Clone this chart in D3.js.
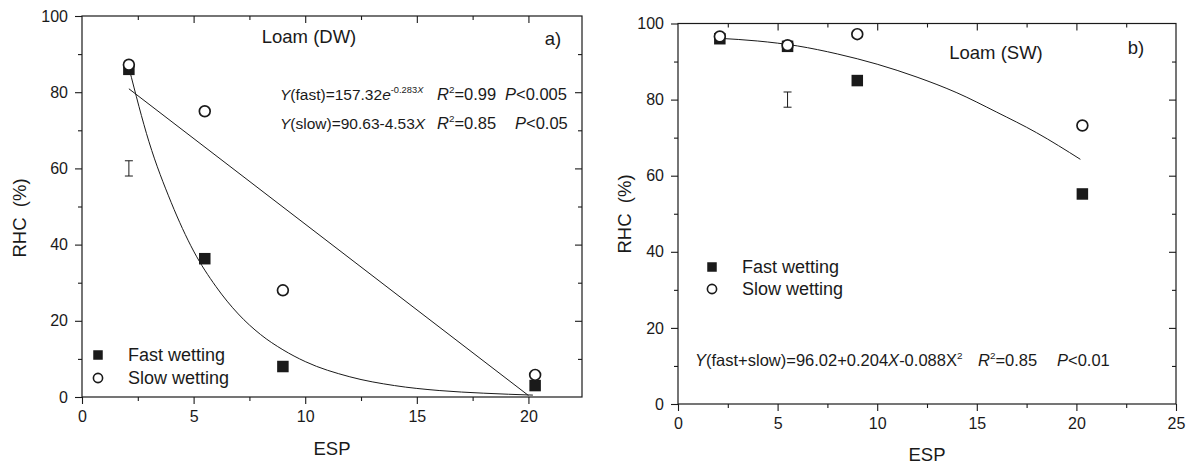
<!DOCTYPE html>
<html><head><meta charset="utf-8">
<script src="https://cdn.jsdelivr.net/npm/d3@7"></script>
<style>
html,body{margin:0;padding:0;background:#fff;}
svg{display:block;font-family:"Liberation Sans",Arial,Helvetica,sans-serif;}
</style></head><body>
<svg id="chart" width="1189" height="465"></svg>
<script>
// ---------- data ----------
const espLevels = [2.1, 5.5, 9.0, 20.3];
// Panel a) Loam (DW)
const dwFast = [86, 36.3, 8, 3];
const dwSlow = [87.2, 75, 28, 5.8];
const dwFastFitX = [2.1, 3, 4, 5, 6, 7, 8, 9, 10, 12, 14, 16, 18, 20.2];
const dwFastFitY = [86.5, 67, 51, 38.3, 29, 21.8, 16.4, 12.4, 9.3, 5.3, 3.0, 1.7, 1.0, 0.5];
const dwSlowFitX = [2.1, 20.0];
const dwSlowFitY = [80.9, 0.4];
const dwErrX = 2.1, dwErrLo = 58, dwErrHi = 62;
// Panel b) Loam (SW)
const swFast = [96, 94, 85, 55.2];
const swSlow = [96.6, 94.3, 97.2, 73.2];
const swFitX = [2.1, 4, 6, 8, 10, 12, 14, 16, 18, 20.2];
const swFitY = [96.1, 95.4, 94.1, 92.0, 89.3, 85.9, 81.8, 76.7, 71.3, 64.3];
const swErrX = 5.5, swErrLo = 78, swErrHi = 82;
// ticks
const yMajor = [0, 20, 40, 60, 80, 100];
const yMinor = [10, 30, 50, 70, 90];
const xMajorA = [0, 5, 10, 15, 20];
const xMinorA = [2.5, 7.5, 12.5, 17.5];
const xMajorB = [0, 5, 10, 15, 20, 25];
const xMinorB = [2.5, 7.5, 12.5, 17.5, 22.5];
const legendLabels = ["Fast wetting", "Slow wetting"];

const svg = d3.select("#chart");
const INK = "#1a1a1a";

function panel(cfg) {
  const x = d3.scaleLinear().domain(cfg.xDomain).range([cfg.left, cfg.right]);
  const y = d3.scaleLinear().domain([0, 100]).range([cfg.bottom, cfg.top]);
  const g = svg.append("g");

  const fmt = d3.format("d");
  const mk = (axis, scale, vals, size, f) => axis(scale).tickValues(vals).tickSize(size).tickSizeOuter(0).tickFormat(f || "");
  const addAxis = (a, tr) => {
    const s = g.append("g").attr("transform", tr).call(a);
    s.select(".domain").remove();
    s.selectAll("line").attr("stroke", INK).attr("stroke-width", 1.1);
    s.selectAll("text").attr("fill", INK).attr("font-size", 16).attr("font-family", "Liberation Sans, Arial, sans-serif");
    return s;
  };
  addAxis(mk(d3.axisBottom, x, cfg.xMajor, 7, fmt), `translate(0,${cfg.bottom})`).selectAll("text").attr("dy", "0.95em");
  addAxis(mk(d3.axisBottom, x, cfg.xMinor, 4), `translate(0,${cfg.bottom})`);
  addAxis(mk(d3.axisLeft, y, yMajor, 7, fmt), `translate(${cfg.left},0)`).selectAll("text").attr("dx", "-0.25em");
  addAxis(mk(d3.axisLeft, y, yMinor, 4), `translate(${cfg.left},0)`);
  addAxis(mk(d3.axisTop, x, cfg.xMajor.filter(v => v > cfg.xDomain[0] && v < cfg.xDomain[1]), -7), `translate(0,${cfg.top})`);
  addAxis(mk(d3.axisTop, x, cfg.xMinor, -4), `translate(0,${cfg.top})`);
  addAxis(mk(d3.axisRight, y, yMajor.filter(v => v > 0 && v < 100), -7), `translate(${cfg.right},0)`);
  addAxis(mk(d3.axisRight, y, yMinor, -4), `translate(${cfg.right},0)`);

  g.append("rect").attr("x", cfg.left).attr("y", cfg.top)
    .attr("width", cfg.right - cfg.left).attr("height", cfg.bottom - cfg.top)
    .attr("fill", "none").attr("stroke", INK).attr("stroke-width", 1.2);

  g.append("text").attr("x", (cfg.left + cfg.right) / 2 + cfg.xTitleDx).attr("y", cfg.xTitleY)
    .attr("text-anchor", "middle").attr("font-size", 18.5).attr("fill", INK).text("ESP");
  g.append("text").attr("transform", `translate(${cfg.yTitleX},${cfg.yTitleY}) rotate(-90)`)
    .attr("text-anchor", "middle").attr("font-size", 18.5).attr("fill", INK)
    .attr("xml:space", "preserve").style("white-space", "pre").text("RHC  (%)");

  const line = d3.line().x(d => x(d[0])).y(d => y(d[1])).curve(d3.curveMonotoneX);
  cfg.fits.forEach(f => {
    g.append("path").datum(d3.zip(f.xs, f.ys)).attr("d", line)
      .attr("fill", "none").attr("stroke", INK).attr("stroke-width", 1);
  });

  const ex = x(cfg.err[0]);
  g.append("path").attr("d",
    `M${ex - 4},${y(cfg.err[1])}H${ex + 4}M${ex},${y(cfg.err[1])}V${y(cfg.err[2])}M${ex - 4},${y(cfg.err[2])}H${ex + 4}`)
    .attr("stroke", INK).attr("stroke-width", 1).attr("fill", "none");

  const fast = d3.zip(espLevels, cfg.fast), slow = d3.zip(espLevels, cfg.slow);
  g.selectAll(".sq").data(fast).join("rect")
    .attr("x", d => x(d[0]) - 5.75).attr("y", d => y(d[1]) - 5.75)
    .attr("width", 11.5).attr("height", 11.5).attr("fill", INK);
  g.selectAll(".ci").data(slow).join("circle")
    .attr("cx", d => x(d[0])).attr("cy", d => y(d[1])).attr("r", 5.4)
    .attr("fill", "#fff").attr("stroke", INK).attr("stroke-width", 1.7);

  const L = cfg.legend;
  g.append("rect").attr("x", L.x - 4.75).attr("y", L.y - 4.75).attr("width", 9.5).attr("height", 9.5).attr("fill", INK);
  g.append("circle").attr("cx", L.x).attr("cy", L.y + L.gap).attr("r", 4.6)
    .attr("fill", "#fff").attr("stroke", INK).attr("stroke-width", 1.6);
  legendLabels.forEach((t, i) => {
    g.append("text").attr("x", L.tx).attr("y", L.y + i * L.gap).attr("dy", "0.35em")
      .attr("font-size", 18).attr("fill", INK).text(t);
  });

  g.append("text").attr("x", cfg.title.x).attr("y", cfg.title.y).attr("text-anchor", "middle")
    .attr("font-size", 18.5).attr("fill", INK).text(cfg.title.text);
  g.append("text").attr("x", cfg.tag.x).attr("y", cfg.tag.y).attr("text-anchor", "middle")
    .attr("font-size", 18.5).attr("fill", INK).text(cfg.tag.text);
  return g;
}

function richText(g, xPos, yPos, parts, size) {
  const t = g.append("text").attr("x", xPos).attr("y", yPos).attr("font-size", size).attr("fill", INK)
    .attr("xml:space", "preserve").style("white-space", "pre");
  let shift = 0;
  parts.forEach(p => {
    const ts = t.append("tspan").text(p.t);
    if (p.i) ts.attr("font-style", "italic");
    const want = p.sup ? -7 : 0;
    if (want !== shift) { ts.attr("dy", want - shift); shift = want; }
    if (p.sup) ts.attr("font-size", size * 0.6);
  });
  return t;
}

const gA = panel({
  xDomain: [0, 22.4], left: 82, right: 582, top: 16, bottom: 397,
  xMajor: xMajorA, xMinor: xMinorA,
  xTitleDx: 0, xTitleY: 455, yTitleX: 26, yTitleY: 218,
  fast: dwFast, slow: dwSlow,
  fits: [{ xs: dwFastFitX, ys: dwFastFitY }, { xs: dwSlowFitX, ys: dwSlowFitY }],
  err: [dwErrX, dwErrLo, dwErrHi],
  legend: { x: 98, y: 355, gap: 23, tx: 128 },
  title: { x: 309, y: 43, text: "Loam (DW)" },
  tag: { x: 553, y: 45, text: "a)" }
});
richText(gA, 280, 100, [{ t: "Y", i: 1 }, { t: "(fast)=157.32" }, { t: "e", i: 1 }, { t: "-0.283", sup: 1 }, { t: "X", i: 1, sup: 1 }], 15.5);
richText(gA, 437, 100, [{ t: "R", i: 1 }, { t: "2", sup: 1 }, { t: "=0.99" }], 16.5);
richText(gA, 505, 100, [{ t: "P", i: 1 }, { t: "<0.005" }], 16.5);
richText(gA, 280, 129, [{ t: "Y", i: 1 }, { t: "(slow)=90.63-4.53" }, { t: "X", i: 1 }], 15.5);
richText(gA, 437, 129, [{ t: "R", i: 1 }, { t: "2", sup: 1 }, { t: "=0.85" }], 16.5);
richText(gA, 515, 129, [{ t: "P", i: 1 }, { t: "<0.05" }], 16.5);

const gB = panel({
  xDomain: [0, 25], left: 678, right: 1176, top: 23.5, bottom: 404,
  xMajor: xMajorB, xMinor: xMinorB,
  xTitleDx: 0, xTitleY: 461, yTitleX: 631, yTitleY: 214,
  fast: swFast, slow: swSlow,
  fits: [{ xs: swFitX, ys: swFitY }],
  err: [swErrX, swErrLo, swErrHi],
  legend: { x: 712, y: 267, gap: 22, tx: 742 },
  title: { x: 996, y: 59, text: "Loam (SW)" },
  tag: { x: 1136, y: 54, text: "b)" }
});
richText(gB, 695, 366, [{ t: "Y", i: 1 }, { t: "(fast+slow)=96.02+0.204" }, { t: "X", i: 1 }, { t: "-0.088X" }, { t: "2", sup: 1 }], 16.5);
richText(gB, 978, 366, [{ t: "R", i: 1 }, { t: "2", sup: 1 }, { t: "=0.85" }], 16.5);
richText(gB, 1057, 366, [{ t: "P", i: 1 }, { t: "<0.01" }], 16.5);
</script>
</body></html>
